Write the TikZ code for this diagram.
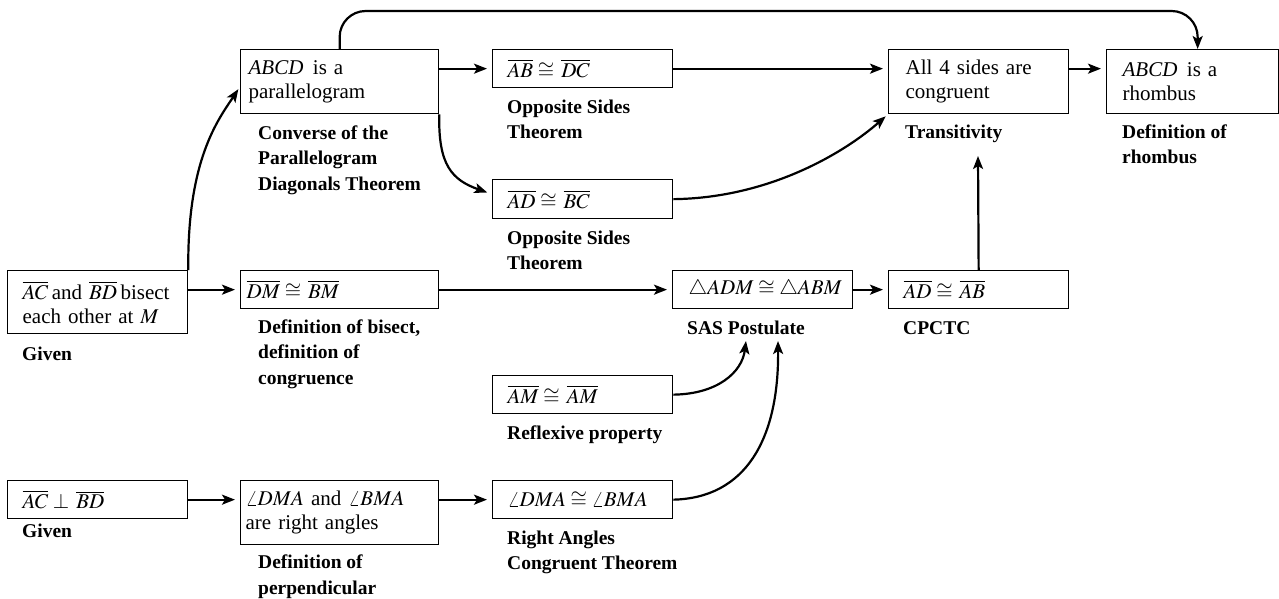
\documentclass[tikz,border=0pt]{standalone}
\usepackage{mathptmx}
\usepackage{fontspec}
\setmainfont{Liberation Serif}
\usetikzlibrary{arrows.meta}
\begin{document}
\begin{tikzpicture}[x=1pt,y=-1pt,
  bx/.style={draw, line width=1.3pt, anchor=north west, align=left, inner ysep=0pt,
    font=\fontsize{21}{24}\selectfont},
  lbl/.style={anchor=base west, align=left, inner sep=0pt,
    font=\bfseries\fontsize{19.5}{25.5}\selectfont},
  arr/.style={line width=2.2pt, -{Stealth[length=13pt,width=10pt,inset=3pt]}, shorten >=5pt}]
\useasboundingbox (0,0) rectangle (1279,598);

% boxes
\node[bx, minimum width=198pt, minimum height=64pt, text width=182pt, inner xsep=8pt] (par) at (240,49)
  {\mbox{\textit{ABCD}\hspace{0.45em}is a}\\parallelogram};
\node[bx, minimum width=180pt, minimum height=38pt, text width=150pt, inner xsep=15pt] (abdc) at (492,49)
  {\mbox{$\overline{AB}\cong\,\overline{DC}$}};
\node[bx, minimum width=180pt, minimum height=39pt, text width=150pt, inner xsep=15pt] (adbc) at (492,179)
  {\mbox{$\overline{AD}\cong\,\overline{BC}$}};
\node[bx, minimum width=180pt, minimum height=64pt, text width=146pt, inner xsep=17pt] (all4) at (888,49)
  {\mbox{All 4 sides are}\\congruent};
\node[bx, minimum width=172pt, minimum height=64pt, text width=140pt, inner xsep=16pt] (rh) at (1106,49)
  {\mbox{\textit{ABCD}\hspace{0.45em}is a}\\rhombus};
\node[bx, minimum width=180pt, minimum height=63pt, text width=150pt, inner xsep=15pt] (bis) at (7,270)
  {\mbox{$\overline{AC}$\,and $\overline{BD}$\,bisect}\\\mbox{each other at $M$}};
\node[bx, minimum width=198pt, minimum height=38pt, text width=186pt, inner xsep=6pt] (dm) at (240,270)
  {\mbox{$\overline{DM}\cong\,\overline{BM}$}};
\node[bx, minimum width=180pt, minimum height=38pt, text width=148pt, inner xsep=16pt] (adm) at (672,270)
  {\mbox{$\triangle ADM\cong\triangle ABM$}};
\node[bx, minimum width=180pt, minimum height=38pt, text width=150pt, inner xsep=15pt] (adab) at (888,270)
  {\mbox{$\overline{AD}\cong\,\overline{AB}$}};
\node[bx, minimum width=180pt, minimum height=38pt, text width=150pt, inner xsep=15pt] (amam) at (492,375)
  {\mbox{$\overline{AM}\cong\,\overline{AM}$}};
\node[bx, minimum width=180pt, minimum height=38pt, text width=150pt, inner xsep=15pt] (perp) at (7,480)
  {\mbox{$\overline{AC}\perp\,\overline{BD}$}};
\node[bx, minimum width=198pt, minimum height=64pt, text width=188pt, inner xsep=5pt] (ang) at (240,480)
  {\mbox{$\angle DMA$ and $\angle BMA$}\\are right angles};
\node[bx, minimum width=180pt, minimum height=38pt, text width=150pt, inner xsep=15pt] (angc) at (492,480)
  {\mbox{$\angle DMA\cong\angle BMA$}};

% reasons (coordinates are the baseline of the last line)
\node[lbl] (r1) at (258,190) {Converse of the\\Parallelogram\\Diagonals Theorem};
\node[lbl] (r2) at (507,138.5) {Opposite Sides\\Theorem};
\node[lbl] (r3) at (507,269.5) {Opposite Sides\\Theorem};
\node[lbl] (r4) at (905,138) {Transitivity};
\node[lbl] (r5) at (1122,163.5) {Definition of\\rhombus};
\node[lbl] (r6) at (22,360) {Given};
\node[lbl] (r7) at (258,384) {Definition of bisect,\\definition of\\congruence};
\node[lbl] (r8) at (687,334) {SAS Postulate};
\node[lbl] (r9) at (903,334) {CPCTC};
\node[lbl] (r10) at (507,439) {Reflexive property};
\node[lbl] (r11) at (22,537) {Given};
\node[lbl] (r12) at (258,594) {Definition of\\perpendicular};
\node[lbl] (r13) at (507,569.5) {Right Angles\\Congruent Theorem};

% helper coordinates
\coordinate (topy) at (700,11);
\coordinate (sas1) at (746,341);
\coordinate (sas2) at (778,341);
\coordinate (trtip) at (978,156);

% connectors
\draw[arr, shorten >=0pt, rounded corners=26pt] (par.north) |- (topy) -| ([xshift=5pt]rh.north);
\draw[arr, shorten >=3pt] (bis.north east) .. controls (187,160) and (218,120) .. ([yshift=-5pt]par.west);
\draw[arr] (bis.east |- dm.west) -- (dm.west);
\draw[arr] (par.east |- abdc.west) -- (abdc.west);
\draw[arr] (par.south east) .. controls (438,165) and (452,180) .. ([yshift=5pt]adbc.west);
\draw[arr] (abdc.east) -- (all4.west |- abdc.east);
\draw[arr, shorten >=3pt] (adbc.east) .. controls (770,198) and (845,152) .. (all4.south west);
\draw[arr] (all4.east |- abdc.east) -- (rh.west |- abdc.east);
\draw[arr] (dm.east) -- (adm.west);
\draw[arr] (adm.east) -- (adab.west);
\draw[arr, shorten >=0pt] (adab.north) -- (trtip);
\draw[arr, shorten >=0pt] (amam.east) .. controls (718,394) and (742,372) .. (sas1);
\draw[arr, shorten >=0pt] (angc.east) .. controls (745,498) and (779,440) .. (sas2);
\draw[arr] (perp.east) -- (ang.west |- perp.east);
\draw[arr] (ang.east |- angc.west) -- (angc.west);
\end{tikzpicture}
\end{document}
